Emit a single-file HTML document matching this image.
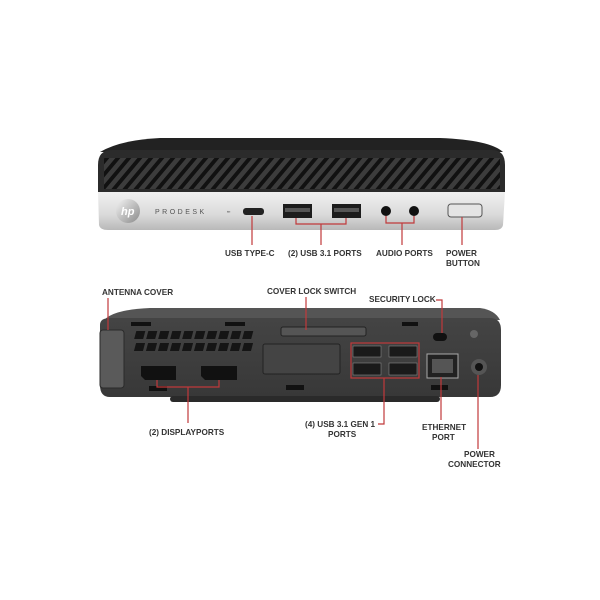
<!DOCTYPE html>
<html><head><meta charset="utf-8"><style>
html,body{margin:0;padding:0;background:#fff;width:600px;height:600px;overflow:hidden}
text{font-family:"Liberation Sans",Arial,sans-serif;font-weight:bold;font-size:8.2px;fill:#333}
</style></head><body>
<svg width="600" height="600" viewBox="0 0 600 600" xmlns="http://www.w3.org/2000/svg">
<defs>
<pattern id="vent" width="11" height="40" patternUnits="userSpaceOnUse" patternTransform="skewX(-40)">
<rect width="11" height="40" fill="#111"/><rect x="0" width="6" height="40" fill="#3c3c3c"/>
</pattern>
<linearGradient id="silver" x1="0" y1="0" x2="0" y2="1">
<stop offset="0" stop-color="#f0f0f0"/><stop offset="0.6" stop-color="#dadada"/><stop offset="1" stop-color="#b8b8b8"/>
</linearGradient>
<linearGradient id="hp" x1="0" y1="0" x2="1" y2="1">
<stop offset="0" stop-color="#f4f4f4"/><stop offset="1" stop-color="#8a8a8a"/>
</linearGradient>
<linearGradient id="body" x1="0" y1="0" x2="0" y2="1">
<stop offset="0" stop-color="#444"/><stop offset="1" stop-color="#383838"/>
</linearGradient>
</defs>

<!-- TOP DEVICE -->
<path d="M100 152 Q120 140 160 138 L440 138 Q490 140 503 152 Z" fill="#222"/>
<path d="M98 165 Q98 150 112 150 L492 150 Q505 150 505 165 L505 192 L98 192 Z" fill="#2b2b2b"/>
<rect x="104" y="158" width="396" height="31" fill="url(#vent)"/>
<path d="M98 192 L505 192 L503 225 Q502 230 495 230 L108 230 Q100 230 99 225 Z" fill="url(#silver)"/>
<circle cx="128" cy="211" r="12" fill="url(#hp)"/>
<text x="121" y="215" style="font-size:11px;font-style:italic;fill:#fff">hp</text>
<text x="155" y="214" style="font-size:7px;letter-spacing:2.5px;fill:#555;font-weight:normal">PRODESK</text>
<text x="227" y="213" style="font-size:4px;fill:#666">⇐</text>
<rect x="243" y="208" width="21" height="7" rx="3" fill="#222"/>
<rect x="283" y="204" width="29" height="14" fill="#1c1c1c"/>
<rect x="285" y="208" width="25" height="4" fill="#555"/>
<rect x="332" y="204" width="29" height="14" fill="#1c1c1c"/>
<rect x="334" y="208" width="25" height="4" fill="#555"/>
<circle cx="386" cy="211" r="5" fill="#111"/>
<circle cx="414" cy="211" r="5" fill="#111"/>
<rect x="448" y="204" width="34" height="13" rx="3" fill="#e4e4e4" stroke="#555" stroke-width="1"/>
<g stroke="#c0393b" stroke-width="1.2" fill="none">
<path d="M252 216 V245"/>
<path d="M296 218 V224 H346 V218 M321 224 V245"/>
<path d="M386 216 V223 H414 V216 M402 223 V245"/>
<path d="M462 217 V245"/>
</g>
<text x="225" y="256">USB TYPE-C</text>
<text x="288" y="256">(2) USB 3.1 PORTS</text>
<text x="376" y="256">AUDIO PORTS</text>
<text x="446" y="256">POWER</text>
<text x="446" y="266">BUTTON</text>

<!-- BOTTOM DEVICE -->
<path d="M102 325 Q105 310 150 308 L480 308 Q495 310 500 320 Z" fill="#555"/>
<path d="M100 325 Q100 318 110 318 L490 318 Q501 318 501 330 L501 385 Q501 397 490 397 L110 397 Q100 397 100 385 Z" fill="url(#body)"/>
<rect x="170" y="396" width="270" height="6" rx="3" fill="#2a2a2a"/>
<rect x="100" y="330" width="24" height="58" rx="3" fill="#5a5a5a" stroke="#2a2a2a"/>
<g fill="#111">
<rect x="131" y="322" width="20" height="4"/><rect x="225" y="322" width="20" height="4"/><rect x="402" y="322" width="16" height="4"/>
<rect x="149" y="386" width="18" height="5"/><rect x="286" y="385" width="18" height="5"/><rect x="431" y="385" width="17" height="5"/>
</g>
<g fill="#151515" transform="skewX(-15)">
<rect x="225" y="331" width="9" height="8"/><rect x="237" y="331" width="9" height="8"/><rect x="249" y="331" width="9" height="8"/><rect x="261" y="331" width="9" height="8"/><rect x="273" y="331" width="9" height="8"/><rect x="285" y="331" width="9" height="8"/><rect x="297" y="331" width="9" height="8"/><rect x="309" y="331" width="9" height="8"/><rect x="321" y="331" width="9" height="8"/><rect x="333" y="331" width="9" height="8"/>
<rect x="228" y="343" width="9" height="8"/><rect x="240" y="343" width="9" height="8"/><rect x="252" y="343" width="9" height="8"/><rect x="264" y="343" width="9" height="8"/><rect x="276" y="343" width="9" height="8"/><rect x="288" y="343" width="9" height="8"/><rect x="300" y="343" width="9" height="8"/><rect x="312" y="343" width="9" height="8"/><rect x="324" y="343" width="9" height="8"/><rect x="336" y="343" width="9" height="8"/>
</g>
<path d="M141 366 H176 V380 H145 L141 376 Z" fill="#111"/>
<path d="M201 366 H237 V380 H205 L201 376 Z" fill="#111"/>
<rect x="281" y="327" width="85" height="9" rx="2" fill="#555" stroke="#222"/>
<rect x="263" y="344" width="77" height="30" rx="2" fill="#444" stroke="#222"/>
<rect x="351" y="343" width="68" height="35" fill="none" stroke="#c0393b" stroke-width="1.2"/>
<g fill="#1a1a1a" stroke="#888" stroke-width="0.6">
<rect x="353" y="346" width="28" height="11"/><rect x="389" y="346" width="28" height="11"/>
<rect x="353" y="363" width="28" height="12"/><rect x="389" y="363" width="28" height="12"/>
</g>
<rect x="433" y="333" width="14" height="8" rx="4" fill="#111"/>
<circle cx="474" cy="334" r="4" fill="#666"/>
<rect x="427" y="354" width="31" height="24" fill="#222" stroke="#aaa"/>
<rect x="432" y="359" width="21" height="14" fill="#555"/>
<circle cx="479" cy="367" r="8" fill="#555"/>
<circle cx="479" cy="367" r="4" fill="#111"/>
<g stroke="#c0393b" stroke-width="1.2" fill="none">
<path d="M108 298 V330"/>
<path d="M306 297 V330"/>
<path d="M436 300 H442 V333"/>
<path d="M157 380 V387 H219 V380 M188 387 V423"/>
<path d="M378 424 H384 V378"/>
<path d="M441 377 V420"/>
<path d="M478 375 V449"/>
</g>
<text x="102" y="295">ANTENNA COVER</text>
<text x="267" y="294">COVER LOCK SWITCH</text>
<text x="369" y="302">SECURITY LOCK</text>
<text x="149" y="435">(2) DISPLAYPORTS</text>
<text x="305" y="427">(4) USB 3.1 GEN 1</text>
<text x="328" y="437">PORTS</text>
<text x="422" y="430">ETHERNET</text>
<text x="432" y="440">PORT</text>
<text x="464" y="457">POWER</text>
<text x="448" y="467">CONNECTOR</text>
</svg>
</body></html>
